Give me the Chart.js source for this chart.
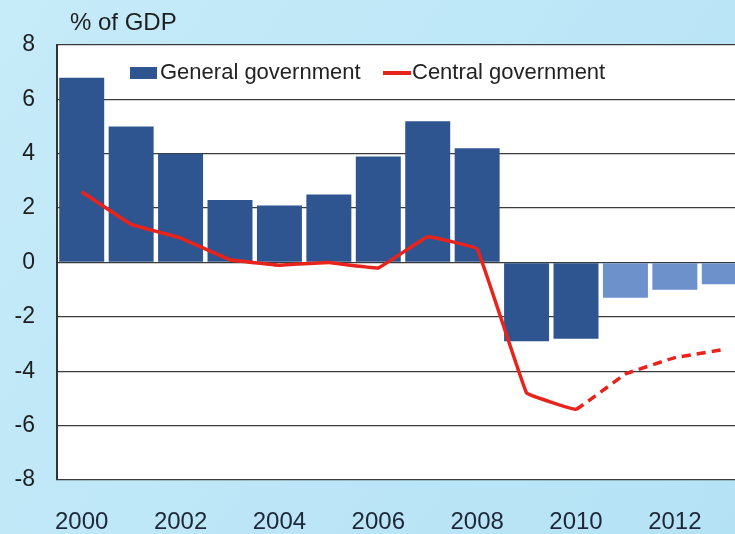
<!DOCTYPE html>
<html>
<head>
<meta charset="utf-8">
<script src="https://cdn.jsdelivr.net/npm/chart.js@4.4.0/dist/chart.umd.js"></script>
<style>
    html, body { margin: 0; padding: 0; overflow: hidden; background: #c2e8f8; }
    #wrap { width: 752px; height: 534px; }
</style>
</head>
<body>
<div id="wrap"><canvas id="myChart"></canvas></div>
<script>
// Chart data
const years = ['2000', '2001', '2002', '2003', '2004', '2005', '2006', '2007', '2008', '2009', '2010', '2011', '2012', '2013'];
const generalGov = [6.8, 5.0, 4.0, 2.3, 2.1, 2.5, 3.9, 5.2, 4.2, -2.9, -2.8, -1.3, -1.0, -0.8];
const centralGov = [2.6, 1.4, 0.9, 0.1, -0.1, 0.0, -0.2, 0.95, 0.5, -4.8, -5.4, -4.1, -3.5, -3.2];
const yTicks = [-8, -6, -4, -2, 0, 2, 4, 6, 8];
const forecastStart = '2011';   // lighter bars from here
const dashedFrom = '2010';      // dashed line from here on

const darkBlue = '#2f5591';
const lightBlue = '#6c91cb';
const red = '#e8231c';
const fontFamily = 'Arial, "Liberation Sans", sans-serif';

const firstForecast = years.indexOf(forecastStart);
const firstDashed = years.indexOf(dashedFrom);

// background + white plot area + inline legend + unit label
const decorPlugin = {
    id: 'decor',
    beforeDraw(chart) {
        const { ctx, chartArea: a, width, height } = chart;
        ctx.save();
        const g = ctx.createLinearGradient(0, 0, width, height);
        g.addColorStop(0, '#c6ebf9');
        g.addColorStop(1, '#b4e2f5');
        ctx.fillStyle = g;
        ctx.fillRect(0, 0, width, height);
        ctx.fillStyle = '#ffffff';
        ctx.fillRect(a.left, a.top, a.right - a.left, a.bottom - a.top);
        ctx.restore();
    },
    afterDraw(chart) {
        const { ctx } = chart;
        const ds = chart.data.datasets;
        ctx.save();
        ctx.font = '24px ' + fontFamily;
        ctx.fillStyle = '#1e1e1e';
        ctx.textBaseline = 'middle';
        ctx.fillText('% of GDP', 70, 23);

        ctx.font = '22px ' + fontFamily;
        const ly = 73;
        ctx.fillStyle = darkBlue;
        ctx.fillRect(130, ly - 6, 27, 12);
        ctx.fillStyle = '#222';
        ctx.fillText(ds[1].label, 160, ly);
        ctx.strokeStyle = red;
        ctx.lineWidth = 4;
        ctx.beginPath();
        ctx.moveTo(383, ly);
        ctx.lineTo(411, ly);
        ctx.stroke();
        ctx.fillStyle = '#222';
        ctx.fillText(ds[0].label, 412, ly);
        ctx.restore();
    }
};

const ctx = document.getElementById('myChart');

new Chart(ctx, {
    type: 'bar',
    data: {
        labels: years,
        datasets: [
            {
                type: 'line',
                label: 'Central government',
                data: centralGov,
                borderColor: red,
                borderWidth: 3.5,
                pointRadius: 0,
                tension: 0.05,
                order: 0,
                segment: {
                    borderDash: c => c.p0DataIndex >= firstDashed ? [9, 6] : undefined
                }
            },
            {
                label: 'General government',
                data: generalGov,
                backgroundColor: generalGov.map((v, i) => i >= firstForecast ? lightBlue : darkBlue),
                barPercentage: 0.91,
                categoryPercentage: 1.0,
                order: 1
            }
        ]
    },
    plugins: [decorPlugin],
    options: {
        responsive: true,
        maintainAspectRatio: false,
        animation: false,
        layout: { padding: { top: 45, right: 3, left: 0, bottom: 0 } },
        plugins: {
            legend: { display: false },
            tooltip: { enabled: false }
        },
        scales: {
            x: {
                grid: { display: false },
                border: { display: false },
                ticks: {
                    autoSkip: false,
                    maxRotation: 0,
                    padding: 20,
                    color: '#1d2738',
                    font: { family: fontFamily, size: 24 },
                    callback: function (v, i) { return i % 2 === 0 ? years[i] : ''; }
                },
                afterFit: s => { s.height = 54; }
            },
            y: {
                min: -8,
                max: 8,
                afterBuildTicks: s => { s.ticks = yTicks.map(v => ({ value: v })); },
                grid: {
                    color: '#3a3a3a',
                    lineWidth: 1.3,
                    drawTicks: false
                },
                border: { display: true, color: '#333', width: 2 },
                ticks: {
                    padding: 22,
                    color: '#1e1e1e',
                    font: { family: fontFamily, size: 23 }
                },
                afterFit: s => { s.width = 57; }
            }
        }
    }
});
</script>
</body>
</html>
